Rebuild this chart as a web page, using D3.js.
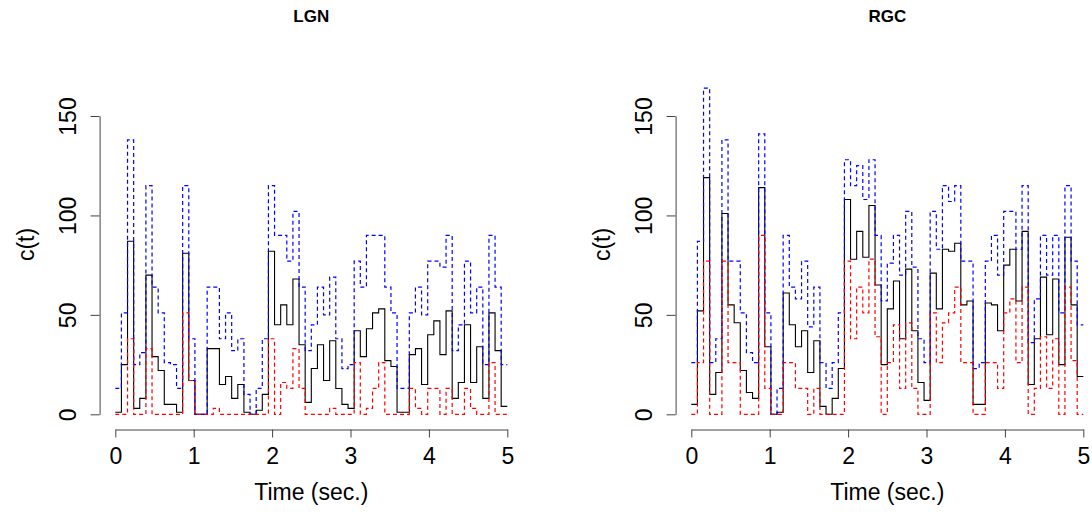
<!DOCTYPE html>
<html>
<head>
<meta charset="utf-8">
<script src="https://cdn.jsdelivr.net/npm/d3@7"></script>
<style>
  body { margin: 0; background: #fff; }
  svg { display: block; font-family: "Liberation Sans", Arial, sans-serif; }
</style>
</head>
<body>
<div id="chart"></div>
<script>
// 64 bins over 5 seconds, one value per bin
const nBins = 64;
const tMax = 5;
const panelTitles = ["LGN", "RGC"];
const timeTicks = [0, 1, 2, 3, 4, 5];
const countTicks = [0, 50, 100, 150];

const lgnEst = [1,25,87,3,8,70,29,22,5,5, 1,81,17,0,0,33,33,15,19,8, 15,1,0,2,10,82,45,55,45,68,
  35,6,23,35,17,37,13,5,3,42, 29,43,51,53,27,24,1,1,30,33, 15,40,47,30,52,8,16,45,16,34, 8,51,32,4];
const lgnUpper = [13,51,138,25,31,115,64,51,26,25, 13,115,38,0,0,64,64,38,51,32, 38,10,0,13,38,115,90,90,77,102,
  64,32,45,64,50,69,38,23,25,77, 64,90,90,90,64,51,13,13,51,64, 50,77,77,74,90,32,45,77,51,64, 25,90,64,25];
const lgnLower = [0,0,38,0,0,33,0,0,0,0, 0,51,17,0,0,0,3,0,0,0, 0,0,0,0,0,38,0,16,13,33,
  13,0,0,0,0,3,0,0,0,26, 0,3,13,26,0,0,0,0,13,3, 0,13,13,0,13,0,0,13,3,0, 0,26,0,0];

const rgcEst = [5,52,119,10,21,101,55,46,22,11, 8,114,34,0,1,61,45,34,42,21, 37,4,0,8,23,108,78,92,79,105,
  65,25,53,67,38,73,42,16,7,71, 53,83,82,86,55,57,5,5,56,55, 42,75,83,57,92,15,38,69,40,68, 25,89,55,19];
const rgcUpper = [26,87,164,26,38,138,77,77,51,31, 26,141,51,0,13,90,64,58,77,44, 64,26,13,26,51,128,115,125,108,128,
  90,57,76,90,70,102,74,38,26,102, 83,115,107,115,77,77,23,26,77,90, 70,102,102,83,115,36,58,90,70,90, 51,115,77,45];
const rgcLower = [0,26,77,0,0,77,26,26,0,0, 0,90,13,0,0,26,26,13,13,0, 13,0,0,0,0,77,38,64,51,78,
  39,0,26,45,13,46,13,0,0,51, 26,46,51,64,26,26,0,0,26,26, 13,51,58,26,64,0,13,39,13,38, 0,64,27,0];

const panels = [
  { title: panelTitles[0], est: lgnEst, upper: lgnUpper, lower: lgnLower, left: 99.6 },
  { title: panelTitles[1], est: rgcEst, upper: rgcUpper, lower: rgcLower, left: 675.6 }
];

const width = 1092, height = 512;
const plotW = 423.4;          // 0..5 plus 4% padding each side
const y0 = 414.3, y150 = 116; // pixel rows of 0 and 150
const xAxisY = 429.5;
const fontSize = 23;

const svg = d3.select("#chart").append("svg")
  .attr("width", width)
  .attr("height", height);

svg.append("rect").attr("width", width).attr("height", height).attr("fill", "#fff");

const dt = tMax / nBins;
const toSteps = vals => vals.map((v, i) => [i * dt, v]).concat([[tMax, vals[vals.length - 1]]]);

panels.forEach(p => {
  const x = d3.scaleLinear().domain([-0.2, 5.2]).range([p.left, p.left + plotW]);
  const y = d3.scaleLinear().domain([0, 150]).range([y0, y150]);
  const g = svg.append("g");

  const line = d3.line()
    .x(d => x(d[0]))
    .y(d => y(d[1]))
    .curve(d3.curveStepAfter);

  g.append("path").datum(toSteps(p.est))
    .attr("d", line).attr("fill", "none")
    .attr("stroke", "#000").attr("stroke-width", 1.1);
  g.append("path").datum(toSteps(p.upper))
    .attr("d", line).attr("fill", "none")
    .attr("stroke", "#0000ff").attr("stroke-width", 1.2)
    .attr("stroke-dasharray", "4,3");
  g.append("path").datum(toSteps(p.lower))
    .attr("d", line).attr("fill", "none")
    .attr("stroke", "#ff0000").attr("stroke-width", 1.2)
    .attr("stroke-dasharray", "4,3");

  // axes, R style: line only over tick range
  const xAxis = g.append("g")
    .attr("transform", `translate(0,${xAxisY})`)
    .call(d3.axisBottom(x.copy().domain([0, 5]).range([x(0), x(5)]))
      .tickValues(timeTicks).tickFormat(d3.format("d"))
      .tickSize(8).tickSizeOuter(0));
  const yAxis = g.append("g")
    .attr("transform", `translate(${p.left},0)`)
    .call(d3.axisLeft(y).tickValues(countTicks).tickFormat(d3.format("d"))
      .tickSize(9).tickSizeOuter(0));

  [xAxis, yAxis].forEach(a => {
    a.select(".domain").attr("stroke", "#444");
    a.selectAll(".tick line").attr("stroke", "#444");
    a.selectAll("text").attr("fill", "#000").attr("font-size", fontSize)
      .attr("font-family", "'Liberation Sans', Arial, sans-serif");
  });
  xAxis.selectAll("text").attr("dy", null).attr("y", 34);
  // rotated y tick labels
  yAxis.selectAll(".tick text")
    .attr("x", null).attr("dy", null)
    .attr("text-anchor", "middle")
    .attr("transform", "translate(-24,0) rotate(-90)");

  g.append("text")
    .attr("x", x(2.5)).attr("y", 500)
    .attr("text-anchor", "middle").attr("font-size", fontSize)
    .text("Time (sec.)");

  g.append("text")
    .attr("transform", `translate(${p.left - 66},${y(85.4)}) rotate(-90)`)
    .attr("text-anchor", "middle").attr("font-size", fontSize)
    .text("c(t)");

  g.append("text")
    .attr("x", x(2.5)).attr("y", 22)
    .attr("text-anchor", "middle").attr("font-size", 17)
    .attr("font-weight", "bold")
    .text(p.title);
});
</script>
</body>
</html>
